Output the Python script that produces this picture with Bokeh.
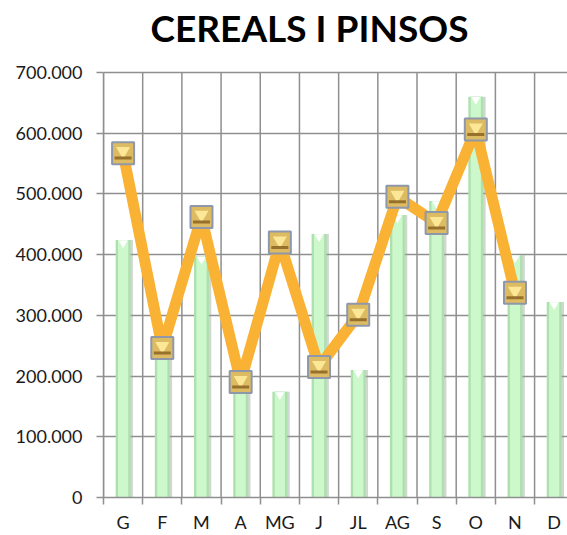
from bokeh.plotting import figure
from bokeh.models import Range1d, FixedTicker, ColumnDataSource, Label
from bokeh.embed import file_html
from bokeh.resources import INLINE

months = ["G", "F", "M", "A", "MG", "J", "JL", "AG", "S", "O", "N", "D"]
bars = [424000, 245000, 397000, 185000, 174000, 434000, 210000, 465000, 488000, 660000, 399000, 322000]
line_vals = [567000, 246000, 462000, 190000, 420000, 215000, 301000, 495000, 452000, 606000, 337000]
y_ticks = [0, 100000, 200000, 300000, 400000, 500000, 600000, 700000]
y_labels = ["0", "100.000", "200.000", "300.000", "400.000", "500.000", "600.000", "700.000"]
title_text = "CEREALS I PINSOS"

FONT = "Lato"
GRID = "#8f8f8f"

xs = [i + 0.5 for i in range(len(months))]
xl = xs[:len(line_vals)]
bounds_x = list(range(len(months) + 1))

YMAX = y_ticks[-1]
FRAME_H = 498           # frame spans whole height above the x axis
PLOT_H = 426            # pixels used by 0..700.000
Y_TOP = YMAX * FRAME_H / PLOT_H
XMAX = 11.84

p = figure(width=567, height=535, output_backend="svg", toolbar_location=None,
           x_range=Range1d(0, XMAX), y_range=Range1d(0, Y_TOP),
           min_border_left=103, min_border_right=0, min_border_top=0, min_border_bottom=37)
p.outline_line_color = None
p.background_fill_color = "white"

# pixel helpers (data units per pixel)
py = YMAX / PLOT_H
px = XMAX / 464.0

# grids
p.xgrid.visible = False
p.segment(x0=bounds_x, y0=[0] * len(bounds_x), x1=bounds_x, y1=[YMAX] * len(bounds_x),
          line_color=GRID, line_width=1.5, level="underlay")
p.ygrid.ticker = FixedTicker(ticks=y_ticks)
p.ygrid.grid_line_color = GRID
p.ygrid.grid_line_width = 1.5

# title (inside the frame, above the plotting area)
p.add_layout(Label(x=(309 - 103) * px, y=YMAX + 45 * py, text=title_text,
                   text_font=FONT, text_font_size="37px", text_font_style="bold",
                   text_color="#000000", text_align="center", text_baseline="alphabetic"))

# x axis
xa = p.xaxis[0]
xa.ticker = FixedTicker(ticks=xs, minor_ticks=bounds_x)
xa.major_label_overrides = {x: m for x, m in zip(xs, months)}
xa.major_tick_line_color = None
xa.major_tick_out = 0
xa.major_tick_in = 0
xa.minor_tick_out = 7
xa.minor_tick_in = 0
xa.minor_tick_line_color = GRID
xa.minor_tick_line_width = 1.5
xa.axis_line_color = GRID
xa.axis_line_width = 1.5
xa.major_label_text_font = FONT
xa.major_label_text_font_size = "18px"
xa.major_label_text_color = "#1a1a1a"
xa.major_label_standoff = 6

ya = p.yaxis[0]
ya.ticker = FixedTicker(ticks=y_ticks)
ya.bounds = (0, YMAX)
ya.major_label_overrides = {t: l for t, l in zip(y_ticks, y_labels)}
ya.major_tick_out = 7
ya.major_tick_in = 0
ya.major_tick_line_color = GRID
ya.major_tick_line_width = 1.5
ya.minor_tick_line_color = None
ya.axis_line_color = GRID
ya.axis_line_width = 1.5
ya.major_label_text_font = FONT
ya.major_label_text_font_size = "18px"
ya.major_label_text_color = "#1a1a1a"
ya.major_label_standoff = 14

bsrc = ColumnDataSource(dict(x=xs, top=bars,
                             xs=[x + 2 * px for x in xs],
                             tri=[b - 3 * py for b in bars]))
# shadow
p.vbar(x="xs", top="top", width=0.40, source=bsrc, fill_color="#9aa79a",
       fill_alpha=0.45, line_color=None)
# bar body
p.vbar(x="x", top="top", width=0.38, source=bsrc, fill_color="#aee0ae", line_color=None)
p.vbar(x="x", top="top", width=0.26, source=bsrc, fill_color="#ccf8cc", line_color=None)
p.scatter(x="x", y="tri", source=bsrc, marker="inverted_triangle", size=9,
          fill_color="white", line_color=None)

lsrc = ColumnDataSource(dict(x=xl, y=line_vals,
                             ytri=[v + 2 * py for v in line_vals],
                             ydash=[v - 5 * py for v in line_vals]))
p.line(x="x", y="y", source=lsrc, line_color="#F9B233", line_width=11, line_join="round")
p.scatter(x="x", y="y", source=lsrc, marker="square", size=22,
          fill_color="#dcbb62", line_color="#8e98aa", line_width=2)
p.scatter(x="x", y="ytri", source=lsrc, marker="inverted_triangle", size=14,
          fill_color="#fbe796", line_color=None)
p.scatter(x="x", y="ydash", source=lsrc, marker="dash", size=17,
          line_color="#97712c", line_width=3)

open("out.html", "w").write(file_html(p, INLINE))
